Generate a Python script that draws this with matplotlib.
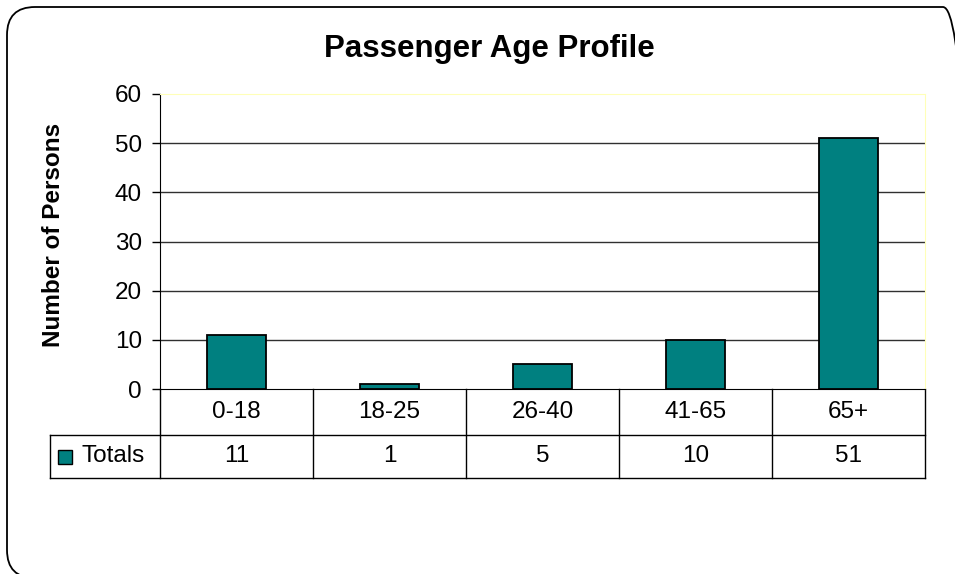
import matplotlib.pyplot as plt
from matplotlib.patches import FancyBboxPatch, Rectangle
from matplotlib.transforms import IdentityTransform

categories = ['0-18', '18-25', '26-40', '41-65', '65+']
totals = [11, 1, 5, 10, 51]
series_name = 'Totals'
title = 'Passenger Age Profile'
ylabel = 'Number of Persons'
yticks = [0, 10, 20, 30, 40, 50, 60]

plt.rcParams['font.family'] = ['Liberation Sans', 'DejaVu Sans']
fs = 17.5

W, H = 955, 574
fig = plt.figure(figsize=(W / 100, H / 100), dpi=100)

# rounded frame round the whole chart (runs off the right and bottom edge)
frame = FancyBboxPatch((7, -4), 964, 571,
                       boxstyle='round,pad=0,rounding_size=28',
                       transform=IdentityTransform(), fill=False,
                       edgecolor='black', linewidth=1.3)
fig.patches.append(frame)

left, right, top, bottom = 160, 925, 94, 389
ax = fig.add_axes([left / W, 1 - bottom / H, (right - left) / W, (bottom - top) / H])

x = range(len(categories))
ax.bar(x, totals, width=0.39, color='#008080', edgecolor='black', linewidth=1.3, zorder=3)

ax.set_xlim(-0.5, len(categories) - 0.5)
ax.set_ylim(0, 60)
ax.set_yticks(yticks)
ax.set_yticklabels([str(v) for v in yticks], fontsize=fs)
ax.tick_params(axis='y', length=6, width=1, pad=7, direction='out')
ax.set_xticks([])
for v in yticks[1:-1]:
    ax.axhline(v, color='#303030', linewidth=1, zorder=1)

for s in ['top', 'right']:
    ax.spines[s].set_color('#ffffb8')
ax.spines['left'].set_color('black')
ax.spines['bottom'].set_color('black')

fig.text(489 / W, 1 - 57 / H, title, ha='center', va='baseline',
         fontsize=22.5, fontweight='bold')
fig.text(54 / W, 1 - 235 / H, ylabel, ha='center', va='center', rotation=90,
         fontsize=fs, fontweight='bold')

# data table under the axis
tr = ax.get_xaxis_transform()
row1 = 46 / (bottom - top)
row2 = 43 / (bottom - top)
unit = (right - left) / len(categories)
label_left = -0.5 - (left - 50) / unit
lw = 1
for i in range(len(categories) + 1):
    ax.plot([i - 0.5, i - 0.5], [0, -(row1 + row2)], color='black', lw=lw,
            transform=tr, clip_on=False)
ax.plot([label_left, len(categories) - 0.5], [-row1, -row1], color='black', lw=lw,
        transform=tr, clip_on=False)
ax.plot([label_left, len(categories) - 0.5], [-(row1 + row2)] * 2, color='black', lw=lw,
        transform=tr, clip_on=False)
ax.plot([label_left, label_left], [-row1, -(row1 + row2)], color='black', lw=lw,
        transform=tr, clip_on=False)

for i, (c, t) in enumerate(zip(categories, totals)):
    ax.text(i, -row1 / 2, c, ha='center', va='center', fontsize=fs,
            transform=tr, clip_on=False)
    ax.text(i, -row1 - row2 / 2, str(t), ha='center', va='center', fontsize=fs,
            transform=tr, clip_on=False)

sq_h = 14 / (bottom - top)
ax.add_patch(Rectangle((label_left + 8 / unit, -row1 - row2 / 2 - sq_h / 2), 14 / unit, sq_h,
                       transform=tr, clip_on=False, facecolor='#008080',
                       edgecolor='black', linewidth=1))
ax.text(label_left + 32 / unit, -row1 - row2 / 2, series_name, ha='left', va='center',
        fontsize=fs, transform=tr, clip_on=False)

fig.savefig('out.png', dpi=100)
